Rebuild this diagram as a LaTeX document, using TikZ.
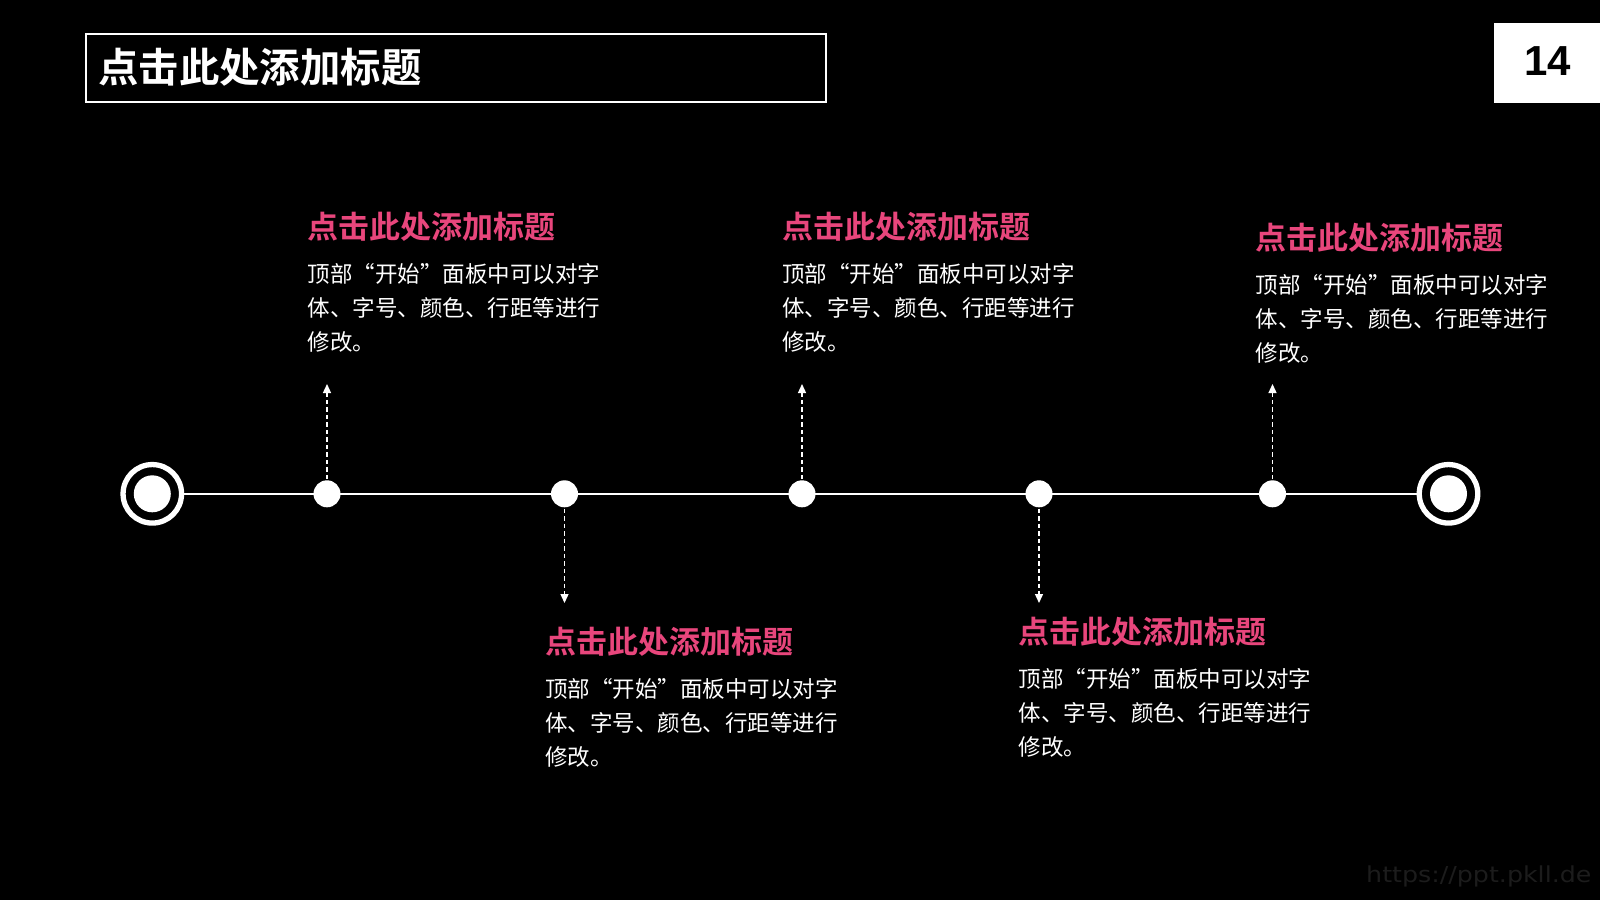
\documentclass[tikz,border=0pt]{standalone}
\usepackage{fontspec}
\usepackage{graphicx}
\setmainfont{Noto Sans CJK SC}
\newfontfamily\cjk{Noto Sans CJK SC}
\newfontfamily\cjkb{Noto Sans CJK SC Bold}
\newfontfamily\arialf{Liberation Sans}
\newfontfamily\dvs{DejaVu Sans}
\usetikzlibrary{arrows.meta}
\definecolor{pinkt}{HTML}{E8467C}
\definecolor{wmark}{HTML}{1C1C1C}
\tikzset{
  ttl/.style={anchor=base west, inner sep=0pt, text=pinkt, font=\cjkb\fontsize{31}{31}\selectfont},
  bodyline/.style={anchor=base west, inner sep=0pt, text=white, font=\cjk\fontsize{22.5}{22.5}\selectfont},
  bigring/.style={circle, draw=white, line width=5.3pt, minimum size=58.5pt, inner sep=0pt},
  bigdot/.style={circle, fill=white, minimum size=37pt, inner sep=0pt},
  smalldot/.style={circle, fill=white, minimum size=27pt, inner sep=0pt},
  tline/.style={white, line width=1.5pt},
  darrow/.style={white, line width=1.3pt, dash pattern=on 4.5pt off 3pt, -{Triangle[width=8pt,length=9pt]}, shorten <=1pt},
}
\newcommand\txtblock[4]{% name, x, title center y, first body center y
  \node[ttl] (#1t) at (#2,#3+11.8) {点击此处添加标题};
  \node[bodyline] (#1a) at (#2,#4+8.5) {顶部“开始”面板中可以对字};
  \node[bodyline] (#1b) at (#2,#4+34.3+8.5) {体、字号、颜色、行距等进行};
  \node[bodyline] (#1c) at (#2,#4+68.6+8.5) {修改。};
}
\begin{document}
\begin{tikzpicture}[x=1pt,y=-1pt]
\fill[black] (0,0) rectangle (1600,900);
\useasboundingbox (0,0) rectangle (1600,900);
% title box
\draw[white, line width=2pt] (85.7,34) rectangle (825.5,102.3);
\node[anchor=base west, inner sep=0pt, text=white, font=\cjkb\fontsize{40.4}{40.4}\selectfont] (maintitle) at (98,82.7) {点击此处添加标题};
% page number
\fill[white] (1494,22.5) rectangle (1600,103);
\node[inner sep=0pt, text=black, font=\arialf\bfseries\fontsize{42}{42}\selectfont] (pnum) at (1547.5,61.3) {14};
% timeline
\coordinate (L) at (152.3,493.8);
\coordinate (R) at (1448.5,493.8);
\node[bigring] (lring) at (L) {};
\node[bigring] (rring) at (R) {};
\draw[tline] (lring) -- (rring);
\node[bigdot] (ldot) at (L) {};
\node[bigdot] (rdot) at (R) {};
\node[smalldot] (d1) at (327,493.8) {};
\node[smalldot] (d2) at (564.5,493.8) {};
\node[smalldot] (d3) at (802,493.8) {};
\node[smalldot] (d4) at (1039,493.8) {};
\node[smalldot] (d5) at (1272.5,493.8) {};
% arrows
\coordinate (a1) at (327,384);
\coordinate (a2) at (564.5,603);
\coordinate (a3) at (802,384);
\coordinate (a4) at (1039,603);
\coordinate (a5) at (1272.5,384);
\draw[darrow] (d1) -- (a1);
\draw[darrow] (d2) -- (a2);
\draw[darrow] (d3) -- (a3);
\draw[darrow] (d4) -- (a4);
\draw[darrow] (d5) -- (a5);
% text blocks
\txtblock{b1}{307.5}{226.5}{273.5}
\txtblock{b3}{782}{226.5}{273.5}
\txtblock{b5}{1255.5}{237.8}{284.7}
\txtblock{b2}{545.2}{641.8}{688.8}
\txtblock{b4}{1018.7}{631.6}{678.6}
% watermark
\node[anchor=west, inner sep=0pt, text=wmark, font=\dvs\fontsize{22}{22}\selectfont] (wm) at (1366,876) {\scalebox{1.15}[1]{https://ppt.pkll.de}};
\end{tikzpicture}
\end{document}
